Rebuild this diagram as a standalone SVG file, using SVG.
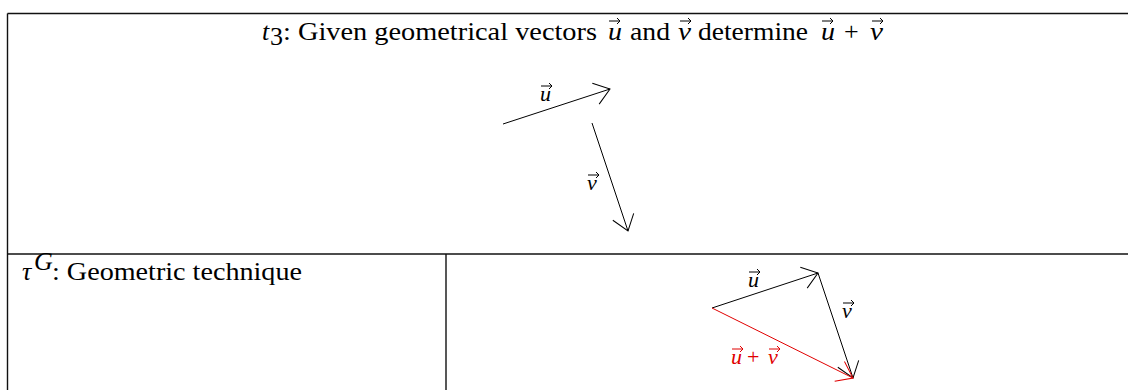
<svg xmlns="http://www.w3.org/2000/svg" xmlns:xlink="http://www.w3.org/1999/xlink" width="1128" height="390" viewBox="0 0 1128 390">
<style>
.t{font-family:"Liberation Serif","Times New Roman","DejaVu Serif",serif;font-size:26px;fill:#000}
.m{font-family:"Liberation Serif","Times New Roman","DejaVu Serif",serif;font-style:italic;font-size:26px;fill:#000}
.lab{font-size:22px}
.red{fill:#e00000}
.grid{stroke:#111;stroke-width:1.4;fill:none}
.vec{stroke:#000;stroke-width:1;fill:none}
.vecr{stroke:#e00000;stroke-width:1;fill:none}
.va{stroke:#000;stroke-width:1;fill:none}
.var{stroke:#e00000;stroke-width:1;fill:none}
</style>
<defs>
<marker id="ah" markerUnits="userSpaceOnUse" viewBox="-20 -14 24 28" refX="0" refY="0" markerWidth="24" markerHeight="28" orient="auto">
<path d="M-15,-11 L0,0 L-15,11" fill="none" stroke="#000" stroke-width="1"/>
</marker>
<marker id="ahr" markerUnits="userSpaceOnUse" viewBox="-20 -14 24 28" refX="0" refY="0" markerWidth="24" markerHeight="28" orient="auto">
<path d="M-15,-11 L0,0 L-15,11" fill="none" stroke="#e00000" stroke-width="1"/>
</marker>
<path id="ov" d="M0,0 H11 M8,-3 L11,0 L8,3"/>
</defs>

<g id="table" class="grid">
<path d="M7.5,13.5 H1128"/>
<path d="M7.5,13.5 V390"/>
<path d="M7.5,254 H1128"/>
<path d="M446,254 V390"/>
</g>

<g id="title">
<text class="m" x="262" y="40">t</text>
<text class="t" x="270" y="45" font-size="15">3</text>
<text class="t" x="283" y="40" textLength="314" lengthAdjust="spacingAndGlyphs">: Given geometrical vectors</text>
<text class="m" x="608" y="40" textLength="14" lengthAdjust="spacingAndGlyphs">u</text>
<use xlink:href="#ov" class="va" transform="translate(609,21)"/>
<text class="t" x="630" y="40" textLength="40" lengthAdjust="spacingAndGlyphs">and</text>
<text class="m" x="678" y="40" textLength="13" lengthAdjust="spacingAndGlyphs">v</text>
<use xlink:href="#ov" class="va" transform="translate(680,21)"/>
<text class="t" x="698" y="40" textLength="110" lengthAdjust="spacingAndGlyphs">determine</text>
<text class="m" x="821" y="40" textLength="14" lengthAdjust="spacingAndGlyphs">u</text>
<use xlink:href="#ov" class="va" transform="translate(822,21)"/>
<text class="t" x="844" y="40">+</text>
<text class="m" x="870" y="40" textLength="13" lengthAdjust="spacingAndGlyphs">v</text>
<use xlink:href="#ov" class="va" transform="translate(872,21)"/>
</g>

<g id="technique">
<text class="m" x="22" y="280">τ</text>
<text class="m" x="34" y="270" font-size="14">G</text>
<text class="t" x="52" y="280" textLength="250" lengthAdjust="spacingAndGlyphs">: Geometric technique</text>
</g>

<g id="connectors">
<line class="vec" x1="503" y1="124" x2="610" y2="89" marker-end="url(#ah)"/>
<line class="vec" x1="592" y1="123" x2="628" y2="231" marker-end="url(#ah)"/>
<line class="vec" x1="712" y1="308" x2="818" y2="273" marker-end="url(#ah)"/>
<line class="vec" x1="818" y1="273" x2="853" y2="378" marker-end="url(#ah)"/>
<line class="vecr" x1="712" y1="308" x2="853" y2="378" marker-end="url(#ahr)"/>
</g>

<g id="labels-top">
<text class="m lab" x="540" y="101">u</text>
<use xlink:href="#ov" class="va" transform="translate(541,86)"/>
<text class="m lab" x="587" y="190">v</text>
<use xlink:href="#ov" class="va" transform="translate(588,175)"/>
</g>

<g id="labels-bottom">
<text class="m lab" x="748" y="287">u</text>
<use xlink:href="#ov" class="va" transform="translate(749,272)"/>
<text class="m lab" x="842" y="318">v</text>
<use xlink:href="#ov" class="va" transform="translate(843,303)"/>
<text class="m lab red" x="731" y="364">u</text>
<use xlink:href="#ov" class="var" transform="translate(732,349)"/>
<text class="t lab red" x="747" y="364">+</text>
<text class="m lab red" x="768" y="364">v</text>
<use xlink:href="#ov" class="var" transform="translate(769,349)"/>
</g>
</svg>
